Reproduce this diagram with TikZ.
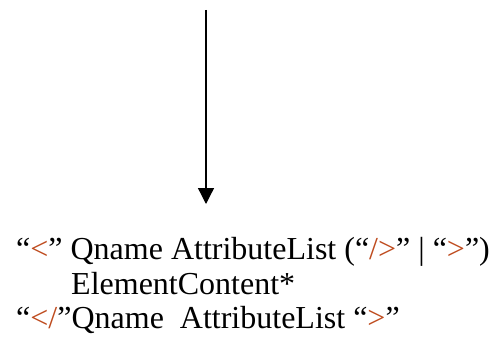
\documentclass[tikz,border=0pt]{standalone}
\usepackage{fontspec}
\setmainfont{Liberation Serif}
\usetikzlibrary{arrows.meta}
\definecolor{tagred}{RGB}{190,75,30}
\newcommand{\tg}[1]{\textcolor{tagred}{#1}}
\tikzset{
  flow/.style={line width=1.3pt,-{Triangle[length=16pt,width=16pt]}},
  grammar/.style={anchor=base west,inner sep=0pt,font=\fontsize{32}{36}\selectfont}
}
\begin{document}
\begin{tikzpicture}[x=1pt,y=-1pt]
\useasboundingbox (0,0) rectangle (497,337);
% arrow
\coordinate (top) at (206,10);
\coordinate (tip) at (206,204);
\draw[flow] (top) -- (tip);
% grammar lines
\node[grammar] (start) at (16,259) {“\tg{<}” Qname AttributeList (“\tg{/>}” | “\tg{>}”)};
\node[grammar] (content) at (71,294) {ElementContent*};
\node[grammar] (end) at (16,328) {“\tg{</}”Qname\ \ AttributeList “\tg{>}”};
\end{tikzpicture}
\end{document}
